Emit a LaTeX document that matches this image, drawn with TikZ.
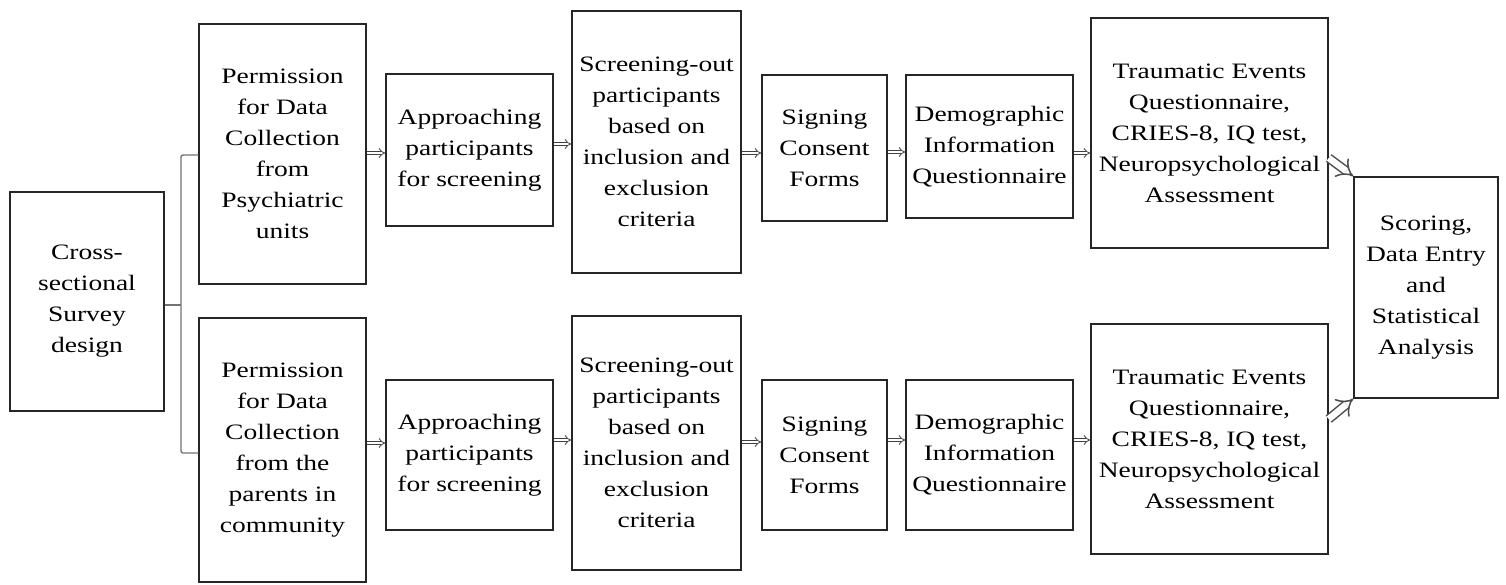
\documentclass[tikz,border=0pt]{standalone}
\usepackage{fontspec}
\setmainfont{Liberation Serif}[FakeStretch=1.25]
\usetikzlibrary{arrows.meta, positioning}

\begin{document}
\begin{tikzpicture}
    [
        x = 1pt, y = -1pt,
        stage/.style = {
            rectangle, draw=black!85, line width=1.5pt, align=center,
            inner sep=0pt, font=\fontsize{22}{31}\selectfont
            },
        imp/.style = {
            double, double distance=2.6pt, line width=0.8pt, draw=black!75, -{Implies}
            },
        bigimp/.style = {
            double, double distance=6.5pt, line width=1.5pt, draw=black!70, -{Implies}
            },
        brace/.style = {
            draw=black!55, line width=1.4pt, rounded corners=2pt
            },
    ]
    \useasboundingbox (0,0) rectangle (1506,584);

    \node[stage, minimum width=154, minimum height=219] (design) at (87,301.5)
        {Cross-\\sectional\\Survey\\design};

    % upper branch
    \node[stage, minimum width=167, minimum height=260] (permission psych) at (282.5,154)
        {Permission\\for Data\\Collection\\from\\Psychiatric\\units};
    \node[stage, minimum width=167, minimum height=152] (approach psych) at (469.5,150)
        {Approaching\\participants\\for screening};
    \node[stage, minimum width=169, minimum height=262] (screen psych) at (656.5,142)
        {Screening-out\\participants\\based on\\inclusion and\\exclusion\\criteria};
    \node[stage, minimum width=125, minimum height=146] (consent psych) at (824.5,148)
        {Signing\\Consent\\Forms};
    \node[stage, minimum width=167, minimum height=143] (demo psych) at (989.5,146.5)
        {Demographic\\Information\\Questionnaire};
    \node[stage, minimum width=237, minimum height=230] (trauma psych) at (1209.5,133)
        {Traumatic Events\\Questionnaire,\\CRIES-8, IQ test,\\Neuropsychological\\Assessment};

    % lower branch
    \node[stage, minimum width=167, minimum height=264] (permission comm) at (282.5,450)
        {Permission\\for Data\\Collection\\from the\\parents in\\community};
    \node[stage, minimum width=167, minimum height=150] (approach comm) at (469.5,455)
        {Approaching\\participants\\for screening};
    \node[stage, minimum width=169, minimum height=254] (screen comm) at (656.5,443)
        {Screening-out\\participants\\based on\\inclusion and\\exclusion\\criteria};
    \node[stage, minimum width=125, minimum height=150] (consent comm) at (824.5,455)
        {Signing\\Consent\\Forms};
    \node[stage, minimum width=167, minimum height=150] (demo comm) at (989.5,455)
        {Demographic\\Information\\Questionnaire};
    \node[stage, minimum width=237, minimum height=230] (trauma comm) at (1209.5,439)
        {Traumatic Events\\Questionnaire,\\CRIES-8, IQ test,\\Neuropsychological\\Assessment};

    \node[stage, minimum width=144, minimum height=221] (scoring) at (1426,287.5)
        {Scoring,\\Data Entry\\and\\Statistical\\Analysis};

    % brace
    \coordinate (spine) at (181,305);
    \draw[brace] (design.east |- spine) -- (spine);
    \draw[brace] (permission psych.west |- 0,155) -| (spine);
    \draw[brace] (permission comm.west |- 0,453) -| (spine);

    \draw[imp] (permission psych.east |- 0,153) -- (approach psych.west |- 0,153);
    \draw[imp] (approach psych.east |- 0,144) -- (screen psych.west |- 0,144);
    \draw[imp] (screen psych.east |- 0,153) -- (consent psych.west |- 0,153);
    \draw[imp] (consent psych.east |- 0,152) -- (demo psych.west |- 0,152);
    \draw[imp] (demo psych.east |- 0,153) -- (trauma psych.west |- 0,153);

    \draw[imp] (permission comm.east |- 0,443) -- (approach comm.west |- 0,443);
    \draw[imp] (approach comm.east |- 0,440) -- (screen comm.west |- 0,440);
    \draw[imp] (screen comm.east |- 0,442) -- (consent comm.west |- 0,442);
    \draw[imp] (consent comm.east |- 0,440) -- (demo comm.west |- 0,440);
    \draw[imp] (demo comm.east |- 0,440) -- (trauma comm.west |- 0,440);

    \draw[bigimp] (trauma psych.east |- 0,158) -- (scoring.north west);
    \draw[bigimp] (trauma comm.east |- 0,419) -- (scoring.south west);
\end{tikzpicture}
\end{document}
